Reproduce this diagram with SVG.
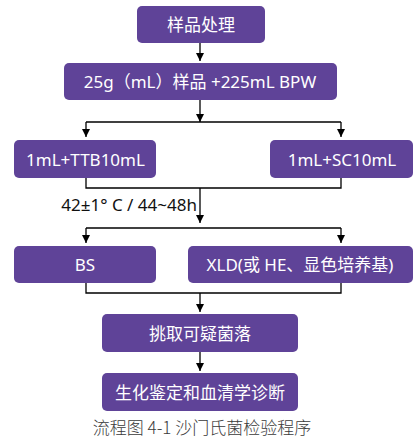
<svg xmlns="http://www.w3.org/2000/svg" width="416" height="439" viewBox="0 0 416 439">
<style>
.box{fill:#5F4398;}
.t{fill:#ffffff;font-family:"Noto Sans","Noto Sans CJK SC",sans-serif;font-size:17px;text-anchor:middle;dominant-baseline:central;}
.ln{stroke:#000;stroke-width:1.3;fill:none;}
.lbl{fill:#111;font-family:"Noto Sans","Noto Sans CJK SC",sans-serif;font-size:17px;}
.cap{fill:#3a3a3a;font-family:"Noto Sans CJK SC",sans-serif;font-size:17px;font-weight:300;text-anchor:middle;}
</style>
<defs>
<marker id="ah" viewBox="0 0 10 10" refX="10" refY="5" markerWidth="8" markerHeight="8" markerUnits="userSpaceOnUse" orient="auto">
<path d="M0,0 L10,5 L0,10 Z" fill="#000"/>
</marker>
</defs>
<g id="connectors">
<path class="ln" d="M200,43 V61" marker-end="url(#ah)"/>
<path class="ln" d="M200,100 V122" marker-end="url(#ah)"/>
<path class="ln" d="M86,122 H341"/>
<path class="ln" d="M86,122 V137" marker-end="url(#ah)"/>
<path class="ln" d="M341,122 V137" marker-end="url(#ah)"/>
<path class="ln" d="M86,178 V188 H341 V178"/>
<path class="ln" d="M200,188 V223" marker-end="url(#ah)"/>
<path class="ln" d="M86,228 H341"/>
<path class="ln" d="M86,228 V243" marker-end="url(#ah)"/>
<path class="ln" d="M341,228 V243" marker-end="url(#ah)"/>
<path class="ln" d="M86,283 V293 H341 V283"/>
<path class="ln" d="M200,293 V312" marker-end="url(#ah)"/>
<path class="ln" d="M200,352 V371" marker-end="url(#ah)"/>
<text class="lbl" x="197" y="211" text-anchor="end">42±1° C / 44~48h</text>
</g>
<g id="n1"><rect class="box" x="137" y="6" width="128" height="37" rx="5"/><text class="t" x="201" y="24.5">样品处理</text></g>
<g id="n2"><rect class="box" x="64" y="63" width="273" height="37" rx="5"/><text class="t" x="200" y="81.5">25g（mL）样品 +225mL BPW</text></g>
<g id="n3"><rect class="box" x="14" y="140" width="142" height="38" rx="5"/><text class="t" x="85.5" y="159">1mL+TTB10mL</text></g>
<g id="n4"><rect class="box" x="270" y="140" width="143" height="38" rx="5"/><text class="t" x="342" y="159">1mL+SC10mL</text></g>
<g id="n5"><rect class="box" x="14" y="246" width="142" height="37" rx="5"/><text class="t" x="85" y="264.5">BS</text></g>
<g id="n6"><rect class="box" x="188" y="246" width="225" height="37" rx="5"/><text class="t" x="300" y="264.5">XLD(或 HE、显色培养基)</text></g>
<g id="n7"><rect class="box" x="102" y="314" width="196" height="38" rx="5"/><text class="t" x="200" y="333">挑取可疑菌落</text></g>
<g id="n8"><rect class="box" x="102" y="373" width="196" height="38" rx="5"/><text class="t" x="200" y="392">生化鉴定和血清学诊断</text></g>
<text class="cap" x="202" y="434">流程图 4-1 沙门氏菌检验程序</text>
</svg>
